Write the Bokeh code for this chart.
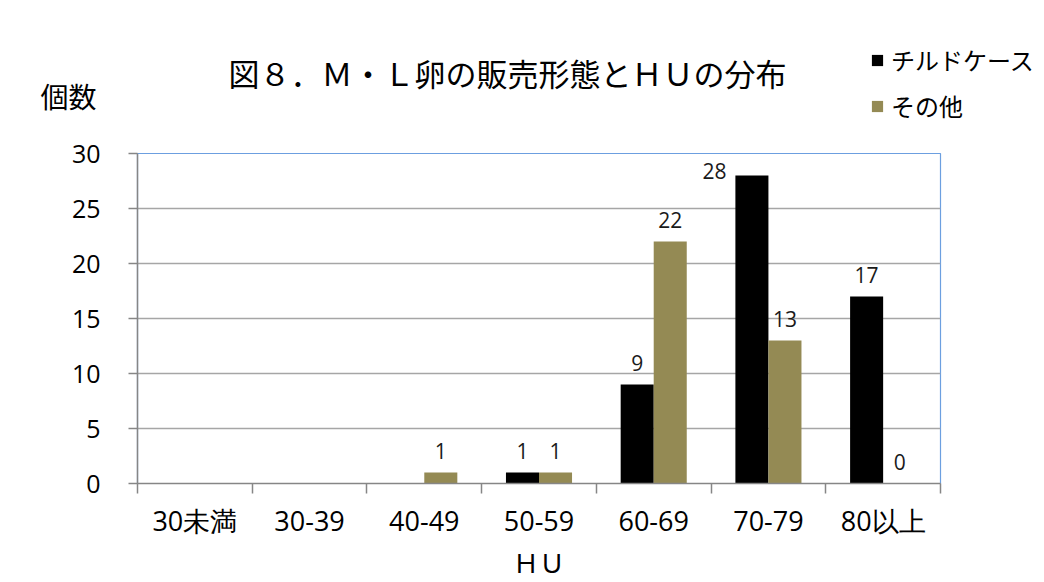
import numpy as np
from bokeh.plotting import figure
from bokeh.layouts import column
from bokeh.core.properties import value
from bokeh.models import (ColumnDataSource, FixedTicker, LabelSet, Legend,
                          LegendItem, Range1d)
from bokeh.embed import file_html
from bokeh.resources import INLINE

# ---- data ----
categories = ["30未満", "30-39", "40-49", "50-59", "60-69", "70-79", "80以上"]
chilled = [None, None, None, 1, 9, 28, 17]   # チルドケース
other = [None, None, 1, 1, 22, 13, 0]        # その他
series_names = ["チルドケース", "その他"]
y_ticks = [0, 5, 10, 15, 20, 25, 30]
title_text = "図８．Ｍ・Ｌ卵の販売形態とＨＵの分布"
y_title = "個数"
x_title = "ＨＵ"

# ---- style ----
BLACK = "#000000"
OLIVE = "#948A54"
colors = [BLACK, OLIVE]
JP = "Noto Sans CJK JP"
NUM = "Open Sans"
W = 0.288
Y_MAX = 30
TOTAL_W = 1040
HEAD_H = 125
MAIN_H = 457

n = len(categories)
centers = np.arange(n) + 0.5

# ---------------- header (title, y-axis caption, legend) ----------------
h = figure(width=TOTAL_W, height=HEAD_H, output_backend="svg", toolbar_location=None,
           x_range=Range1d(0, TOTAL_W), y_range=Range1d(HEAD_H, 0),
           x_axis_type=None, y_axis_type=None,
           min_border=0, min_border_left=0, min_border_right=0,
           min_border_top=0, min_border_bottom=0)
h.frame_align = False
h.outline_line_color = None
h.background_fill_color = "white"
h.border_fill_color = "white"
h.text(x=[228], y=[72], text=[title_text], text_align="left", text_baseline="middle",
       text_font=value(JP), text_font_size="31px", text_color="#000000")
h.text(x=[40], y=[95], text=[y_title], text_align="left", text_baseline="middle",
       text_font=value(JP), text_font_size="28px", text_color="#000000")
# legend swatch renderers: one off-canvas placeholder each, only for the legend glyph
dummy = [h.vbar(x=[-5000], top=[0], bottom=[0], width=1, fill_color=c, line_color=None)
         for c in colors]
legend = Legend(items=[LegendItem(label=nm, renderers=[r]) for nm, r in zip(series_names, dummy)],
                location=(870, 2), orientation="vertical",
                glyph_width=14, glyph_height=14, label_height=26, spacing=11,
                padding=0, margin=0, label_standoff=7,
                label_text_font=JP, label_text_font_size="24px",
                label_text_color="#000000",
                background_fill_alpha=0, border_line_color=None)
h.add_layout(legend, "center")

# ---------------- main chart ----------------
p = figure(width=TOTAL_W, height=MAIN_H, output_backend="svg", toolbar_location=None,
           x_range=Range1d(0, n), y_range=Range1d(0, Y_MAX),
           min_border_left=137, min_border_right=100, min_border_top=153 - HEAD_H,
           min_border_bottom=90)
p.frame_align = False
p.outline_line_color = "#6C9FE0"
p.outline_line_width = 1.2
p.background_fill_color = "white"
p.border_fill_color = "white"

def bars(vals, offset, color):
    xs = [c + offset for c, v in zip(centers, vals) if v is not None]
    ys = [v for v in vals if v is not None]
    src = ColumnDataSource(dict(x=xs, top=ys))
    r = p.vbar(x="x", top="top", width=W, bottom=0, source=src,
               fill_color=color, line_color=None)
    return r, xs, ys

r1, x1, y1 = bars(chilled, -W / 2, BLACK)
r2, x2, y2 = bars(other, W / 2, OLIVE)

# data labels
norm = dict(x=[], y=[], t=[])
side = dict(x=[], y=[], t=[])
for xs, ys in ((x1, y1), (x2, y2)):
    for xv, yv in zip(xs, ys):
        if yv > Y_MAX - 3:
            side["x"].append(xv - W / 2); side["y"].append(yv); side["t"].append(str(yv))
        else:
            norm["x"].append(xv); norm["y"].append(yv); norm["t"].append(str(yv))

p.add_layout(LabelSet(x="x", y="y", text="t", source=ColumnDataSource(norm),
                      text_align="center", text_baseline="bottom", y_offset=14,
                      text_font=value(NUM), text_font_size="21px", text_color="#1a1a1a"))
p.add_layout(LabelSet(x="x", y="y", text="t", source=ColumnDataSource(side),
                      text_align="right", text_baseline="middle", x_offset=-9, y_offset=5,
                      text_font=value(NUM), text_font_size="21px", text_color="#1a1a1a"))

# axes
xa = p.xaxis[0]
xa.ticker = FixedTicker(ticks=list(centers), minor_ticks=list(np.arange(n + 1)))
xa.major_label_overrides = {float(c): lab for c, lab in zip(centers, categories)}
xa.major_tick_out = 0
xa.major_tick_in = 0
xa.minor_tick_out = 10
xa.minor_tick_in = 0
xa.minor_tick_line_color = "#868686"
xa.minor_tick_line_width = 1.5
xa.axis_line_color = "#868686"
xa.axis_line_width = 1.5
xa.major_label_standoff = 8
xa.major_label_text_font = NUM
xa.major_label_text_font_size = "27px"
xa.major_label_text_color = "#000000"
xa.axis_label = x_title
xa.axis_label_standoff = 1
xa.axis_label_text_font = JP
xa.axis_label_text_font_size = "26px"
xa.axis_label_text_font_style = "normal"
xa.axis_label_text_color = "#000000"

ya = p.yaxis[0]
ya.ticker = FixedTicker(ticks=y_ticks)
ya.major_tick_out = 9
ya.major_tick_in = 0
ya.minor_tick_line_color = None
ya.major_tick_line_color = "#868686"
ya.major_tick_line_width = 1.5
ya.axis_line_color = "#868686"
ya.axis_line_width = 1.5
ya.major_label_standoff = 28
ya.major_label_text_font = NUM
ya.major_label_text_font_size = "25px"
ya.major_label_text_color = "#000000"

p.xgrid.visible = False
p.ygrid.ticker = FixedTicker(ticks=y_ticks[1:-1])
p.ygrid.grid_line_color = "#A6A6A6"
p.ygrid.grid_line_width = 1.5

layout = column(h, p, spacing=0)
open("out.html", "w").write(file_html(layout, INLINE))
